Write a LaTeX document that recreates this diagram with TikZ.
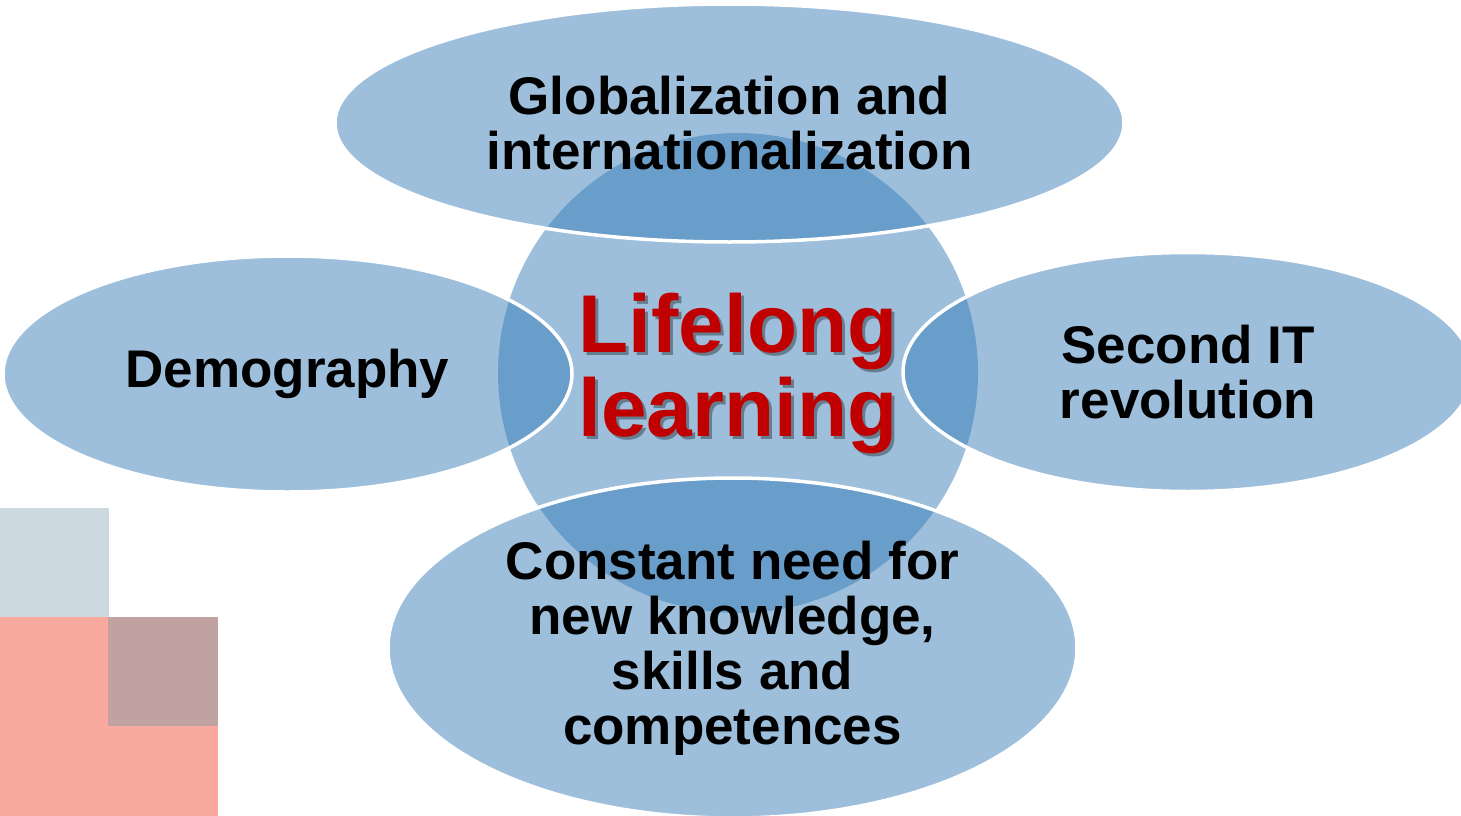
\documentclass[tikz,border=0pt]{standalone}
\usepackage{fontspec}
\setmainfont{Liberation Sans}
\usetikzlibrary{shapes.geometric}
\definecolor{bub}{RGB}{51,122,182}
\definecolor{lred}{RGB}{192,0,0}
\definecolor{sqb}{RGB}{205,217,224}
\definecolor{sqr}{RGB}{249,169,157}
\definecolor{sqm}{RGB}{192,162,160}
\tikzset{%
    ell/.style={ellipse, draw=white, line width=3.5pt, fill=bub, fill opacity=0.48, text opacity=1, inner sep=0pt, align=center, font=\bfseries\fontsize{53}{55}\selectfont},
    cir/.style={circle, fill=bub, fill opacity=0.48, minimum size=480pt, inner sep=0pt},
    big/.style={align=center, inner sep=0pt, font=\bfseries\fontsize{82}{84}\selectfont, text=lred},
    shd/.style={big, text=black, text opacity=0.35},
}

\begin{document}
\begin{tikzpicture}[x=1pt, y=-1pt]
    \useasboundingbox (0,0) rectangle (1461,816);
    \clip (0,0) rectangle (1461,816);
    \coordinate (O) at (738,373);
    \fill[sqb] (0,508) rectangle (109,617);
    \fill[sqr] (0,617) rectangle (218,816);
    \fill[sqm] (108,617) rectangle (218,726);
    \node[cir] (core) at (O) {};
    \node[ell, minimum width=789pt, minimum height=238pt] (glob) at (729.5,123) {Globalization and\\internationalization};
    \node[ell, minimum width=569pt, minimum height=236pt] (demo) at (287.5,374) {Demography};
    \node[ell, minimum width=570pt, minimum height=239pt] (itrev) at (1188,372) {Second IT\\revolution};
    \node[ell, minimum width=689pt, minimum height=340pt] (need) at (732.5,648) {Constant need for\\new knowledge,\\skills and\\competences};
    \node[shd] (llshd) at ([shift={(3,3)}]O) {Lifelong\\learning};
    \node[big] (ll) at (O) {Lifelong\\learning};
\end{tikzpicture}
\end{document}
